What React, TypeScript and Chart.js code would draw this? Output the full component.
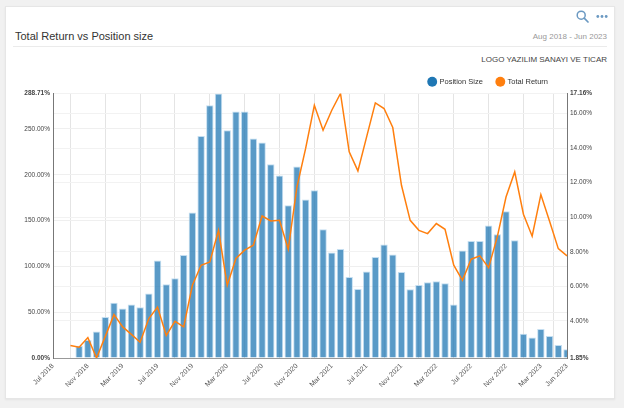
import React, { useEffect, useRef } from "react";
import { Chart, registerables } from "chart.js";

Chart.register(...registerables);

const CATEGORIES = [
  "Jul 2018", "Aug 2018", "Sep 2018", "Oct 2018", "Nov 2018", "Dec 2018",
  "Jan 2019", "Feb 2019", "Mar 2019", "Apr 2019", "May 2019", "Jun 2019",
  "Jul 2019", "Aug 2019", "Sep 2019", "Oct 2019", "Nov 2019", "Dec 2019",
  "Jan 2020", "Feb 2020", "Mar 2020", "Apr 2020", "May 2020", "Jun 2020",
  "Jul 2020", "Aug 2020", "Sep 2020", "Oct 2020", "Nov 2020", "Dec 2020",
  "Jan 2021", "Feb 2021", "Mar 2021", "Apr 2021", "May 2021", "Jun 2021",
  "Jul 2021", "Aug 2021", "Sep 2021", "Oct 2021", "Nov 2021", "Dec 2021",
  "Jan 2022", "Feb 2022", "Mar 2022", "Apr 2022", "May 2022", "Jun 2022",
  "Jul 2022", "Aug 2022", "Sep 2022", "Oct 2022", "Nov 2022", "Dec 2022",
  "Jan 2023", "Feb 2023", "Mar 2023", "Apr 2023", "May 2023", "Jun 2023",
];

const POSITION_SIZE = [
  null, null, null, 13.3, 19.7, 28.8, 44.8, 60.3, 53.9, 58.3, 55.4, 70.4,
  106.4, 80.5, 87.0, 112.5, 158.8, 242.4, 275.9, 288.71, 248.6, 269.0, 269.0, 239.5,
  235.2, 211.5, 199.1, 166.7, 209.0, 172.9, 183.1, 140.5, 115.1, 119.0, 88.4, 75.3,
  94.3, 110.3, 123.8, 112.9, 93.9, 75.0, 79.7, 82.7, 83.8, 81.6, 58.3, 117.3,
  127.8, 127.8, 144.6, 135.1, 160.2, 128.5, 26.6, 22.3, 31.7, 24.0, 14.2, 9.5,
];

const TOTAL_RETURN = [
  null, null, 2.57, 2.47, 3.03, 1.85, 3.1, 4.36, 3.65, 3.22, 2.76, 4.13,
  4.8, 3.16, 3.97, 3.65, 6.06, 7.22, 7.41, 9.24, 6.06, 7.61, 8.09, 8.38,
  10.07, 9.78, 9.82, 8.14, 11.75, 13.98, 16.48, 15.03, 16.19, 17.16, 13.78, 12.68,
  14.65, 16.62, 16.29, 15.19, 11.85, 9.82, 9.24, 9.05, 9.63, 9.3, 7.22, 6.35,
  7.57, 7.76, 7.08, 8.86, 11.17, 12.62, 10.17, 8.9, 11.31, 9.77, 8.18, 7.76,
];

const LEFT_TICKS = [0, 50, 100, 150, 200, 250, 288.71];
const RIGHT_TICKS = [1.85, 4, 6, 8, 10, 12, 14, 16, 17.16];

const FONT = "'Liberation Sans', Arial, Helvetica, sans-serif";

export default function App() {
  const canvasRef = useRef<HTMLCanvasElement | null>(null);

  useEffect(() => {
    if (!canvasRef.current) return;
    Chart.defaults.font.family = FONT;

    const legendShift = {
      id: "legendShift",
      afterLayout(chart: any) {
        const lg = chart.legend;
        if (lg) {
          lg.right = lg.right - 62;
          lg.top = lg.top + 2;
          lg.bottom = lg.bottom + 2;
        }
      },
    };

    const chart = new Chart(canvasRef.current, {
      type: "bar",
      data: {
        labels: CATEGORIES,
        datasets: [
          {
            type: "bar",
            label: "Position Size",
            data: POSITION_SIZE,
            yAxisID: "y",
            order: 2,
            backgroundColor: "rgba(31,119,180,0.74)",
            borderColor: "rgba(190,218,240,0.9)",
            borderWidth: 1,
            categoryPercentage: 1,
            barPercentage: 0.85,
          } as any,
          {
            type: "line",
            label: "Total Return",
            data: TOTAL_RETURN,
            yAxisID: "y1",
            order: 1,
            borderColor: "#ff7f0e",
            backgroundColor: "#ff7f0e",
            borderWidth: 1.5,
            pointRadius: 0,
            tension: 0,
            spanGaps: false,
          } as any,
        ],
      },
      options: {
        animation: false,
        responsive: false,
        maintainAspectRatio: false,
        layout: { padding: 0 },
        plugins: {
          tooltip: { enabled: false },
          legend: {
            display: true,
            position: "top",
            align: "end",
            labels: {
              usePointStyle: true,
              pointStyle: "circle",
              boxWidth: 7,
              boxHeight: 7,
              padding: 14,
              color: "#333",
              font: { size: 7.5, family: FONT },
              generateLabels: (c: any) => {
                const items = (Chart.defaults.plugins.legend.labels as any).generateLabels(c);
                items.sort((a: any, b: any) => a.datasetIndex - b.datasetIndex);
                const cols = ["#1f77b4", "#ff7f0e"];
                items.forEach((it: any) => {
                  const col = cols[it.datasetIndex];
                  it.fillStyle = col;
                  it.strokeStyle = col;
                  it.lineWidth = 0;
                  it.pointStyle = "circle";
                });
                return items;
              },
            },
          },
        },
        scales: {
          x: {
            type: "category",
            offset: false,
            grid: {
              display: true,
              color: "#e4e4e4",
              drawTicks: false,
              lineWidth: 1,
            },
            border: { display: true, color: "#999", width: 1 },
            ticks: {
              autoSkip: false,
              maxRotation: 45,
              minRotation: 45,
              padding: 4,
              color: "#555",
              font: { size: 7, family: FONT },
              callback: (_v: any, index: number) =>
                index % 4 === 0 || index === CATEGORIES.length - 1 ? CATEGORIES[index] : null,
            },
            afterFit: (scale: any) => {
              scale.height = 42;
            },
          },
          y: {
            type: "linear",
            position: "left",
            min: 0,
            max: 288.71,
            grid: { color: "#efefef", drawTicks: false, lineWidth: 1 },
            border: { display: true, color: "#777", width: 1 },
            afterBuildTicks: (scale: any) => {
              scale.ticks = LEFT_TICKS.map((v) => ({ value: v }));
            },
            ticks: {
              padding: 3,
              color: "#444",
              font: (ctx: any) => ({
                size: 6.5,
                family: FONT,
                weight: ctx.index === 0 || ctx.index === LEFT_TICKS.length - 1 ? "bold" : "normal",
              }),
              callback: (v: any) => Number(v).toFixed(2) + "%",
            },
            afterFit: (scale: any) => {
              scale.width = 53;
            },
          },
          y1: {
            type: "linear",
            position: "right",
            min: 1.85,
            max: 17.16,
            grid: { color: "#f2f2f2", drawTicks: false, lineWidth: 1, drawOnChartArea: true },
            border: { display: true, color: "#777", width: 1 },
            afterBuildTicks: (scale: any) => {
              scale.ticks = RIGHT_TICKS.map((v) => ({ value: v }));
            },
            ticks: {
              padding: 3,
              color: "#444",
              font: (ctx: any) => ({
                size: 6.5,
                family: FONT,
                weight: ctx.index === 0 || ctx.index === RIGHT_TICKS.length - 1 ? "bold" : "normal",
              }),
              callback: (v: any) => Number(v).toFixed(2) + "%",
            },
            afterFit: (scale: any) => {
              scale.width = 57;
            },
          },
        },
      } as any,
      plugins: [legendShift],
    });

    return () => {
      chart.destroy();
    };
  }, []);

  return (
    <div style={{ position: "relative", width: 624, height: 408, background: "#f1f1f1", overflow: "hidden", fontFamily: FONT }}>
      <style>{`body{margin:0;background:#f1f1f1;}`}</style>
      <div
        style={{
          position: "absolute",
          left: 5,
          top: 6,
          width: 610,
          height: 393,
          background: "#fff",
          border: "1px solid #e6e6e6",
          boxSizing: "border-box",
          boxShadow: "0 1px 2px rgba(0,0,0,0.06)",
        }}
      />
      <svg
        style={{ position: "absolute", left: 576, top: 10 }}
        width="13"
        height="13"
        viewBox="0 0 13 13"
      >
        <circle cx="5.2" cy="5.2" r="4" fill="none" stroke="#6b99c2" strokeWidth="1.5" />
        <line x1="8.2" y1="8.2" x2="12" y2="12" stroke="#6b99c2" strokeWidth="1.7" strokeLinecap="round" />
      </svg>
      <svg
        style={{ position: "absolute", left: 596, top: 14 }}
        width="12"
        height="5"
        viewBox="0 0 12 5"
      >
        <circle cx="1.8" cy="2.5" r="1.4" fill="#6b99c2" />
        <circle cx="6" cy="2.5" r="1.4" fill="#6b99c2" />
        <circle cx="10.2" cy="2.5" r="1.4" fill="#6b99c2" />
      </svg>
      <div style={{ position: "absolute", left: 15, top: 30, fontSize: 11, lineHeight: "13px", color: "#333", whiteSpace: "nowrap" }}>
        Total Return vs Position size
      </div>
      <div style={{ position: "absolute", right: 17, top: 32, fontSize: 8, lineHeight: "10px", color: "#999", whiteSpace: "nowrap" }}>
        Aug 2018 - Jun 2023
      </div>
      <div style={{ position: "absolute", left: 13, top: 46, width: 594, height: 1, background: "#ebebeb" }} />
      <div style={{ position: "absolute", right: 17, top: 55, fontSize: 8, lineHeight: "10px", color: "#444", whiteSpace: "nowrap" }}>
        LOGO YAZILIM SANAYI VE TICAR
      </div>
      <canvas
        ref={canvasRef}
        width={624}
        height={338}
        style={{ position: "absolute", left: 0, top: 62, width: 624, height: 338 }}
      />
    </div>
  );
}
